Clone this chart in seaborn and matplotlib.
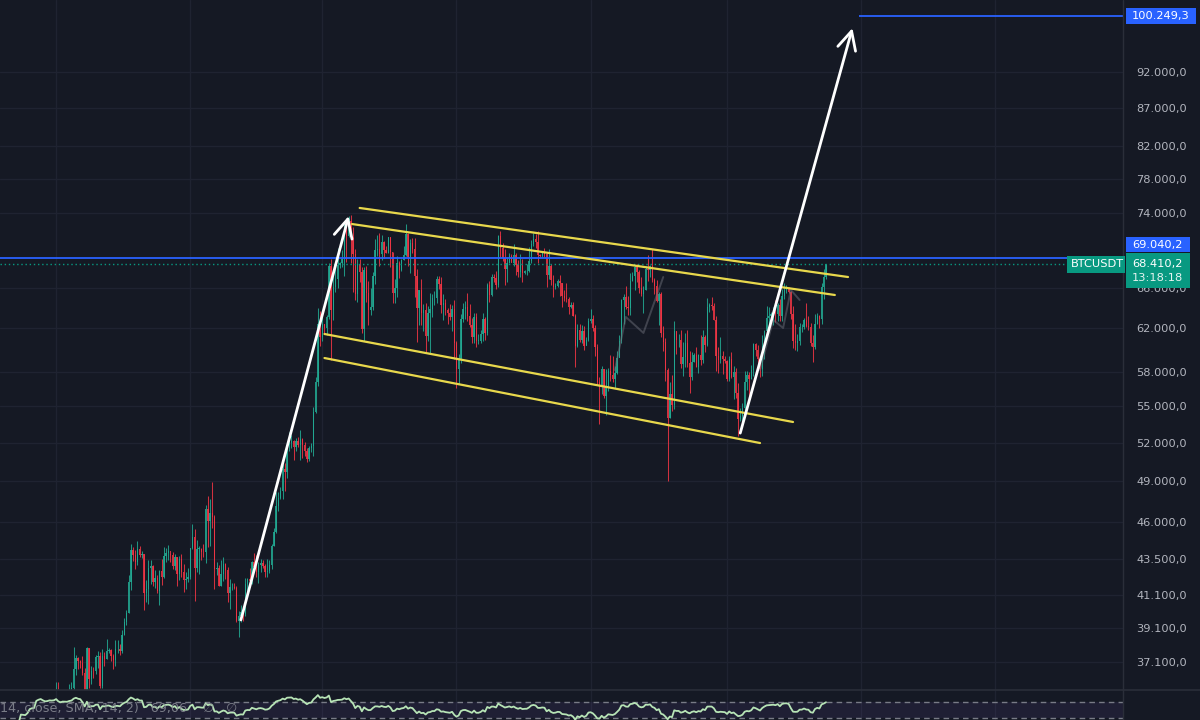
import numpy as np
import pandas as pd
import matplotlib
matplotlib.use("Agg")
import matplotlib.pyplot as plt
import matplotlib.dates as mdates
from matplotlib.patches import Rectangle
from matplotlib.ticker import FixedLocator, FuncFormatter, NullLocator
import seaborn as sns

# ---------------- data (BTCUSDT daily, prices in thousands) ----------------
start_date = "2023-10-01"
first_open_k = 26.97
close_k = [
    # Oct 2023
    27.98, 27.50, 27.43, 27.79, 27.41, 27.93, 27.95, 27.92, 27.59, 27.39, 26.87, 26.76, 26.86, 26.85, 27.15, 28.50,
    28.40, 28.32, 28.72, 29.67, 29.91, 29.99, 33.07, 33.92, 34.50, 34.16, 33.91, 34.09, 34.53, 34.49, 34.65,
    # Nov 2023
    35.42, 34.94, 34.73, 35.08, 35.05, 35.04, 35.42, 35.63, 36.70, 37.32, 37.14, 37.06, 36.49, 35.55, 37.88,
    36.16, 36.60, 36.57, 37.36, 37.45, 35.76, 37.42, 37.29, 37.72, 37.79, 37.45, 37.24, 37.82, 37.85, 37.72,
    # Dec 2023
    38.69, 39.47, 39.98, 41.98, 44.08, 43.77, 43.29, 44.17, 43.72, 43.79, 41.24, 41.49, 42.87, 43.02, 41.93,
    42.24, 41.36, 42.66, 42.27, 43.66, 43.86, 43.99, 43.72, 43.01, 43.58, 42.51, 43.44, 42.58, 42.07, 42.14, 42.28,
    # Jan 2024
    44.18, 44.95, 42.85, 44.15, 44.16, 43.97, 43.93, 46.97, 46.12, 46.66, 46.34, 42.78, 42.84, 41.73, 42.51,
    43.14, 42.74, 41.26, 41.62, 41.66, 41.57, 39.50, 39.85, 40.08, 39.93, 41.82, 42.12, 42.03, 43.30, 42.94, 42.58,
    # Feb 2024
    43.08, 43.19, 43.00, 42.58, 42.66, 43.09, 44.34, 45.29, 47.13, 47.75, 48.29, 49.96, 49.70, 51.80, 51.94,
    52.14, 51.66, 52.12, 51.78, 52.26, 51.84, 51.30, 50.73, 51.57, 51.73, 54.48, 57.04, 62.43, 61.13,
    # Mar 2024
    62.39, 61.99, 63.11, 68.24, 63.80, 66.10, 66.92, 68.30, 68.50, 68.96, 72.12, 71.48, 73.08, 71.39, 69.50,
    65.30, 68.39, 67.61, 61.94, 67.84, 65.50, 63.80, 64.04, 67.21, 69.96, 69.99, 69.46, 70.78, 69.89, 69.65, 71.33,
    # Apr 2024
    69.70, 65.46, 65.96, 68.51, 67.84, 68.90, 69.36, 71.62, 69.15, 70.63, 70.01, 67.15, 63.91, 65.74, 63.42,
    63.79, 61.28, 63.47, 63.82, 64.94, 64.94, 66.84, 66.41, 64.28, 64.50, 63.77, 63.46, 63.12, 63.84, 60.64,
    # May 2024
    58.25, 59.12, 62.89, 63.89, 64.03, 63.16, 62.33, 61.19, 63.07, 60.79, 60.80, 61.45, 62.90, 61.55, 66.25,
    65.23, 67.05, 66.94, 66.27, 71.45, 70.14, 69.12, 67.93, 68.53, 69.29, 68.50, 69.40, 68.30, 67.60, 68.36, 67.49,
    # Jun 2024
    67.70, 67.75, 68.80, 70.56, 71.08, 70.76, 69.34, 69.31, 69.65, 69.50, 67.32, 68.24, 66.75, 66.01, 66.19,
    66.64, 66.49, 65.16, 64.96, 64.83, 64.10, 64.25, 63.18, 60.28, 61.80, 60.86, 61.71, 60.32, 60.89, 62.68,
    # Jul 2024
    62.85, 62.03, 60.20, 57.05, 56.66, 58.24, 55.86, 56.70, 58.05, 57.72, 57.34, 57.89, 59.20, 60.80, 64.72,
    65.04, 64.09, 63.97, 66.71, 67.15, 68.17, 67.55, 65.94, 65.37, 65.80, 67.91, 67.81, 68.25, 66.78, 66.19, 64.62,
    # Aug 2024
    65.35, 61.50, 60.69, 58.16, 54.02, 56.04, 55.13, 61.71, 60.88, 60.93, 58.71, 59.35, 60.60, 58.74, 57.56,
    58.88, 59.49, 58.43, 59.48, 59.01, 61.16, 60.38, 64.10, 64.22, 64.18, 62.83, 59.42, 59.03, 59.37, 59.12, 58.97,
    # Sep 2024
    57.30, 59.13, 57.49, 57.97, 56.16, 53.95, 54.16, 54.87, 57.05, 57.65, 57.34, 58.13, 60.54, 60.00, 59.13,
    58.21, 60.31, 61.76, 62.95, 63.20, 63.35, 63.58, 63.34, 64.26, 63.15, 65.18, 65.79, 65.89, 65.60, 63.33,
    # Oct 2024
    60.80, 60.65, 60.75, 62.08, 62.09, 62.82, 62.22, 62.13, 60.58, 60.27, 62.44, 63.19, 62.85, 66.08, 67.04, 68.41,
]
high_k = [
    28.06, 28.58, 27.67, 27.83, 28.12, 28.29, 28.05, 28.10, 27.99, 27.73, 27.48, 26.94, 27.10, 26.97, 27.29, 30.00,
    28.61, 28.98, 28.90, 30.23, 30.34, 30.20, 33.95, 35.20, 35.13, 34.86, 34.48, 34.48, 34.75, 34.85, 34.72,
    35.98, 35.98, 34.94, 35.27, 35.38, 35.28, 35.89, 35.98, 37.97, 37.52, 37.41, 37.23, 37.42, 36.76, 37.98,
    37.93, 36.85, 36.84, 37.50, 37.75, 37.65, 37.86, 37.65, 38.43, 37.89, 37.83, 37.58, 38.38, 38.40, 38.15,
    38.98, 39.70, 40.20, 42.42, 44.49, 44.30, 44.05, 44.70, 44.37, 44.04, 43.79, 42.10, 43.43, 43.42, 43.09,
    42.75, 42.43, 42.76, 43.48, 44.28, 44.24, 44.40, 43.81, 43.94, 43.80, 43.60, 43.68, 43.80, 43.12, 42.60, 42.90,
    44.18, 45.88, 45.50, 44.73, 44.34, 44.19, 44.50, 47.25, 47.89, 47.70, 48.97, 46.52, 43.25, 43.07, 43.40,
    43.58, 43.20, 42.93, 42.18, 41.87, 41.88, 41.68, 40.13, 40.50, 40.28, 42.22, 42.20, 42.84, 43.32, 43.88, 43.75,
    43.29, 43.48, 43.38, 43.12, 43.50, 43.40, 44.49, 45.60, 48.20, 48.17, 48.57, 50.33, 50.37, 52.04, 52.82,
    52.58, 52.20, 52.36, 52.48, 52.98, 52.38, 52.05, 51.54, 51.70, 51.95, 54.92, 57.56, 64.00, 63.68,
    63.14, 62.43, 63.23, 68.50, 69.00, 67.64, 67.99, 70.14, 68.67, 69.98, 72.80, 72.97, 73.65, 73.78, 72.42,
    70.00, 68.92, 68.93, 68.10, 68.10, 68.24, 66.65, 65.99, 67.62, 71.15, 71.56, 71.73, 71.55, 70.93, 70.36, 71.37,
    71.34, 69.68, 66.90, 69.29, 68.72, 69.00, 70.33, 72.80, 71.76, 71.17, 71.26, 71.25, 67.93, 65.80, 66.87,
    64.36, 64.48, 64.13, 65.45, 65.39, 65.70, 67.20, 67.21, 67.08, 65.30, 64.80, 63.92, 64.36, 64.23, 64.70,
    60.80, 59.60, 63.33, 64.50, 64.64, 65.50, 64.40, 62.99, 63.44, 63.47, 61.49, 61.82, 63.45, 63.10, 66.44,
    66.69, 67.40, 67.44, 67.68, 71.52, 71.95, 70.64, 70.08, 69.22, 69.56, 69.50, 70.60, 69.60, 68.90, 69.50, 69.01,
    67.85, 68.43, 70.28, 71.06, 71.76, 71.62, 71.97, 69.55, 69.86, 70.15, 69.56, 69.99, 68.45, 67.30, 66.45,
    66.90, 67.24, 66.49, 65.72, 66.48, 65.07, 64.52, 64.52, 63.37, 62.38, 62.45, 62.30, 62.17, 61.20, 63.00,
    63.84, 63.28, 62.27, 60.50, 57.50, 58.47, 58.23, 58.24, 58.30, 59.47, 59.40, 58.50, 59.84, 61.40, 64.88,
    65.36, 66.11, 65.14, 67.47, 67.58, 68.38, 68.48, 67.80, 67.11, 66.11, 68.25, 69.40, 68.30, 70.00, 66.95, 66.81,
    65.60, 65.60, 62.19, 61.10, 58.30, 57.04, 57.71, 62.73, 61.74, 61.47, 61.85, 60.72, 61.58, 61.80, 59.85,
    59.80, 59.69, 60.20, 59.62, 61.40, 61.80, 61.40, 64.96, 64.49, 65.00, 64.50, 63.20, 60.24, 61.16, 59.84, 59.45,
    59.05, 59.40, 59.81, 58.52, 58.33, 56.99, 54.85, 55.30, 58.09, 58.04, 57.99, 58.60, 60.65, 60.62, 60.39,
    59.20, 61.32, 61.79, 64.13, 64.03, 63.55, 64.04, 64.74, 64.48, 64.82, 65.83, 66.50, 66.26, 66.06, 65.65,
    64.14, 62.37, 61.47, 62.46, 62.37, 63.00, 64.48, 63.20, 62.53, 61.32, 63.40, 63.48, 63.28, 66.50, 67.95, 68.42,
]
low_k = [
    26.95, 27.33, 27.16, 27.22, 27.37, 27.35, 27.86, 27.69, 27.26, 27.30, 26.55, 26.56, 26.69, 26.81, 26.84, 27.11,
    28.11, 28.13, 28.17, 28.59, 29.46, 29.68, 29.88, 32.88, 33.69, 33.90, 33.40, 33.85, 33.94, 34.06, 34.06,
    34.31, 34.35, 34.10, 34.57, 34.52, 34.73, 34.52, 35.11, 35.53, 36.34, 36.73, 36.75, 36.35, 34.80, 35.36,
    35.62, 35.86, 36.20, 36.40, 36.75, 35.63, 35.66, 36.87, 37.25, 37.60, 37.15, 36.71, 36.87, 37.60, 37.50,
    37.62, 38.65, 39.28, 39.98, 41.42, 43.33, 42.82, 43.08, 43.58, 43.56, 40.22, 40.68, 40.55, 41.81, 41.67,
    41.60, 41.25, 40.53, 41.79, 42.20, 43.27, 43.40, 43.30, 42.80, 42.74, 41.68, 42.10, 42.30, 41.30, 41.52, 41.97,
    42.18, 44.15, 40.75, 42.62, 42.50, 43.40, 43.58, 43.20, 44.30, 44.35, 45.62, 41.50, 42.43, 41.72, 41.70,
    42.05, 42.18, 40.68, 40.28, 41.42, 41.50, 39.43, 38.55, 39.48, 39.50, 39.82, 41.40, 41.62, 41.80, 42.69, 42.29,
    41.88, 42.58, 42.89, 42.26, 42.26, 42.57, 42.79, 44.33, 45.24, 46.80, 47.70, 47.70, 48.30, 49.27, 51.31,
    51.58, 50.62, 51.33, 51.68, 50.62, 50.80, 50.90, 50.50, 50.58, 51.28, 50.90, 54.45, 56.70, 60.36,
    60.77, 61.56, 61.32, 62.85, 59.00, 62.77, 65.55, 66.00, 68.02, 68.13, 67.19, 68.62, 71.33, 68.56, 65.60,
    64.78, 64.55, 66.55, 61.50, 60.78, 64.53, 62.26, 63.24, 63.80, 66.40, 69.25, 68.23, 68.90, 69.05, 69.56, 69.61,
    68.07, 64.49, 64.50, 65.06, 66.98, 67.73, 68.87, 69.24, 68.21, 67.52, 69.57, 65.09, 60.66, 62.26, 62.30,
    61.76, 59.77, 60.83, 59.60, 63.10, 64.27, 64.50, 65.89, 63.50, 62.79, 63.30, 62.39, 62.81, 61.77, 59.12,
    56.55, 56.94, 58.81, 62.60, 62.90, 62.70, 62.10, 60.63, 60.65, 60.19, 60.51, 60.63, 60.75, 60.84, 61.33,
    64.58, 65.10, 66.60, 65.85, 66.06, 69.16, 68.80, 66.31, 66.61, 68.50, 68.78, 68.25, 67.30, 67.13, 67.10, 66.60,
    67.40, 67.30, 67.60, 68.55, 70.38, 70.12, 68.51, 69.21, 69.13, 69.21, 66.05, 66.90, 66.30, 65.07, 65.87,
    66.02, 65.10, 64.06, 64.69, 64.53, 63.40, 63.94, 63.15, 58.40, 60.20, 60.66, 60.62, 60.00, 60.38, 60.76,
    62.50, 61.75, 59.41, 56.77, 53.50, 56.01, 55.73, 54.26, 56.30, 57.15, 57.05, 56.52, 57.76, 59.30, 60.63,
    62.40, 63.86, 63.25, 63.31, 66.72, 65.77, 66.58, 65.47, 65.10, 63.45, 65.73, 66.67, 67.07, 66.52, 65.30, 64.53,
    62.30, 61.20, 59.85, 57.20, 49.00, 53.96, 54.58, 54.73, 59.59, 60.26, 58.29, 57.64, 58.43, 58.43, 56.12,
    57.25, 58.82, 58.40, 57.85, 58.58, 58.80, 59.80, 60.35, 63.58, 63.80, 62.82, 58.03, 57.86, 58.75, 57.75, 58.75,
    57.20, 57.13, 57.41, 55.61, 55.67, 52.55, 53.74, 53.65, 54.59, 56.40, 55.55, 57.33, 57.63, 59.45, 58.70,
    57.50, 57.61, 59.17, 61.57, 62.33, 62.76, 62.35, 62.63, 62.70, 62.70, 62.67, 64.80, 65.45, 65.45, 62.90,
    60.16, 59.95, 59.83, 60.46, 61.68, 61.94, 62.12, 61.84, 60.29, 58.90, 60.05, 62.44, 62.04, 62.42, 64.80, 66.86,
]

price_ticks = [37100, 39100, 41100, 43500, 46000, 49000, 52000, 55000, 58000,
               62000, 66000, 74000, 78000, 82000, 87000, 92000]
alert_level = 69040.2
target_level = 100249.3
last_price = 68410.2
countdown = "13:18:18"
symbol = "BTCUSDT"
target_start = "2024-10-31"

# drawings (date, price)
channel_starts = ["2024-03-18T00:00", "2024-03-14T12:00", "2024-03-02T00:00", "2024-03-02T00:00"]
channel_ends = ["2024-10-26T00:00", "2024-10-20T00:00", "2024-10-01T00:00", "2024-09-16T00:00"]
channel_p0 = [74600, 72780, 61450, 59220]
channel_p1 = [67080, 65250, 53670, 51960]
arrow_starts = ["2024-01-24T00:00", "2024-09-07T00:00"]
arrow_ends = ["2024-03-13T00:00", "2024-10-28T00:00"]
arrow_p0 = [39580, 52760]
arrow_p1 = [73680, 98380]
ghost1_dates = ["2024-07-12T00:00", "2024-07-17T00:00", "2024-07-25T00:00", "2024-08-03T00:00"]
ghost1_prices = [58130, 63080, 61550, 67080]
ghost2_dates = ["2024-09-16T00:00", "2024-09-22T00:00", "2024-09-26T12:00", "2024-09-30T00:00", "2024-10-04T00:00"]
ghost2_prices = [58130, 62790, 62020, 65760, 64750]
rsi_legend = "14, close, SMA, 14, 2)   69,06    ∅   ∅"
rsi_bands = [70, 30]

view_start = "2023-10-06T12:00"
view_end = "2025-02-28T00:00"
y_min, y_max = 35535, 102727
rsi_lo, rsi_hi = 25.0, 100.0

# ---------------- styling ----------------
BG = "#151924"
GRID = "#1f2331"
TXT = "#b2b5be"
UP = "#22ab94"
DN = "#f23645"
BLUE = "#2962ff"
TEAL = "#089981"
YEL = "#e8d84c"

sns.set_theme(style="dark")
plt.rcParams["font.family"] = ["DejaVu Sans"]

def ts(s):
    return pd.to_datetime(s, format="ISO8601")

W, H = 1200, 720
fig = plt.figure(figsize=(12, 7.2), dpi=100, facecolor=BG)
plot_w = 1123
main_top, main_bot = 0, 690
ax = fig.add_axes([0, 1 - main_bot / H, plot_w / W, (main_bot - main_top) / H])
ax2 = fig.add_axes([0, 0, plot_w / W, (H - main_bot) / H], sharex=ax)
for a in (ax, ax2):
    a.set_facecolor(BG)
    for s in a.spines.values():
        s.set_visible(False)

df = pd.DataFrame({
    "date": pd.date_range(start_date, periods=len(close_k), freq="D"),
    "close": np.array(close_k) * 1000,
    "high": np.array(high_k) * 1000,
    "low": np.array(low_k) * 1000,
})
df["open"] = df["close"].shift(1).fillna(first_open_k * 1000)
df["up"] = df["close"] >= df["open"]
x = mdates.date2num(df["date"])

# grid
ax.set_yscale("log")
ax.set_ylim(y_min, y_max)
ax.set_xlim(ts(view_start), ts(view_end))
ax.xaxis.set_major_locator(mdates.MonthLocator(bymonth=[1, 3, 5, 7, 9, 11]))
ax.yaxis.set_major_locator(FixedLocator(price_ticks))
ax.yaxis.set_minor_locator(NullLocator())
ax.grid(True, which="major", color=GRID, lw=1)
ax2.grid(True, axis="x", color=GRID, lw=1)
ax2.grid(False, axis="y")

def eu(v, pos=None):
    s = f"{v:,.1f}"
    return s.replace(",", "X").replace(".", ",").replace("X", ".")

ax.yaxis.tick_right()
ax.yaxis.set_major_formatter(FuncFormatter(eu))
ax.tick_params(axis="y", length=0, pad=9.4, labelsize=8.2, labelcolor=TXT)
ax.tick_params(axis="x", length=0, labelbottom=False)
ax2.tick_params(axis="both", length=0, labelbottom=False, labelleft=False, labelright=False)

# candles
colors = np.where(df["up"], UP, DN)
ax.vlines(x, df["low"], df["high"], colors=colors, lw=0.75, alpha=0.85, zorder=2)
body_lo = np.minimum(df["open"], df["close"])
body_hi = np.maximum(df["open"], df["close"])
body_hi = np.maximum(body_hi, body_lo * 1.0008)
ax.bar(x, body_hi - body_lo, bottom=body_lo, width=0.6, color=colors, lw=0, alpha=0.85, zorder=3)

# horizontal price lines
ax.axhline(alert_level, color=BLUE, lw=1.3, zorder=4)
ax.axhline(last_price, color=TEAL, lw=1, ls=(0, (1, 2)), zorder=4)
ax.hlines(target_level, mdates.date2num(ts(target_start)), ax.get_xlim()[1],
          color=BLUE, lw=1.3, zorder=4)

# faint ghost paths
for gd, gp in ((ghost1_dates, ghost1_prices), (ghost2_dates, ghost2_prices)):
    sns.lineplot(x=ts(gd), y=gp, ax=ax, color="#6b6e78", lw=1.4, alpha=0.5,
                 estimator=None, sort=False, zorder=4)

# channel lines
for d0, d1, p0, p1 in zip(channel_starts, channel_ends, channel_p0, channel_p1):
    sns.lineplot(x=ts([d0, d1]), y=[p0, p1], ax=ax, color=YEL, lw=1.6,
                 estimator=None, sort=False, zorder=5)

# arrows
for d0, d1, p0, p1 in zip(arrow_starts, arrow_ends, arrow_p0, arrow_p1):
    ax.annotate("", xy=(mdates.date2num(ts(d1)), p1),
                xytext=(mdates.date2num(ts(d0)), p0),
                arrowprops=dict(arrowstyle="->,head_length=0.6,head_width=0.3", color="white",
                                lw=2.0, shrinkA=0, shrinkB=0, mutation_scale=22), zorder=6)

# RSI pane
delta = df["close"].diff()
gain = delta.clip(lower=0)
loss = -delta.clip(upper=0)
ag = gain.ewm(alpha=1 / 14, adjust=False, min_periods=14).mean()
al = loss.ewm(alpha=1 / 14, adjust=False, min_periods=14).mean()
df["rsi"] = 100 - 100 / (1 + ag / al)
ax2.set_ylim(rsi_lo, rsi_hi)
ax2.axhspan(rsi_bands[1], rsi_bands[0], color="#7e57c2", alpha=0.10, lw=0)
for lvl in rsi_bands:
    ax2.axhline(lvl, color="#787b86", lw=1, ls=(0, (4, 3)))
sns.lineplot(data=df, x="date", y="rsi", ax=ax2, color="#b7e4b6", lw=1.3)
ax2.set_xlabel("")
ax2.set_ylabel("")
ax.set_xlabel("")
ax.set_ylabel("")
ax2.set_xlim(ts(view_start), ts(view_end))
ax2.text(0.0, 0.38, rsi_legend, transform=ax2.transAxes, fontsize=9.2, color="#8a8d96",
         alpha=0.85, va="center", ha="left", zorder=7)

# separators
fig.add_artist(plt.Line2D([plot_w / W, plot_w / W], [0, 1], color="#2a2e39", lw=1))
fig.add_artist(plt.Line2D([0, 1], [1 - main_bot / H, 1 - main_bot / H], color="#2a2e39", lw=1.2))

# ---------------- price labels on the scale ----------------
fig.canvas.draw()

def ypix(v):
    # pixel row (from top) of a price on the main axis
    return H - ax.transData.transform((ax.get_xlim()[0], v))[1]

def box(x0, y0, w, h, fc):
    fig.add_artist(Rectangle((x0 / W, 1 - (y0 + h) / H), w / W, h / H, transform=fig.transFigure,
                             facecolor=fc, edgecolor="none", zorder=10))

def label(xp, yp, s, **kw):
    fig.text(xp / W, 1 - yp / H, s, ha="left", va="center", zorder=11, **kw)

yt = ypix(target_level)
box(1126, yt - 8, 70, 16, BLUE)
label(1132, yt, eu(target_level), color="white", fontsize=8.2)

ya = ypix(alert_level) - 13
box(1126, ya - 8, 64, 15, BLUE)
label(1132, ya, eu(alert_level), color="white", fontsize=8.2)

yl = ypix(last_price)
box(1126, yl - 11, 64, 35, TEAL)
label(1132, yl, eu(last_price), color="white", fontsize=8.2)
label(1132, yl + 14, countdown, color="#e6f4f1", fontsize=8.2)

box(1067, yl - 8, 58, 17, TEAL)
label(1071, yl, symbol, color="white", fontsize=8.2)

fig.savefig("out.png", dpi=100, facecolor=BG)
